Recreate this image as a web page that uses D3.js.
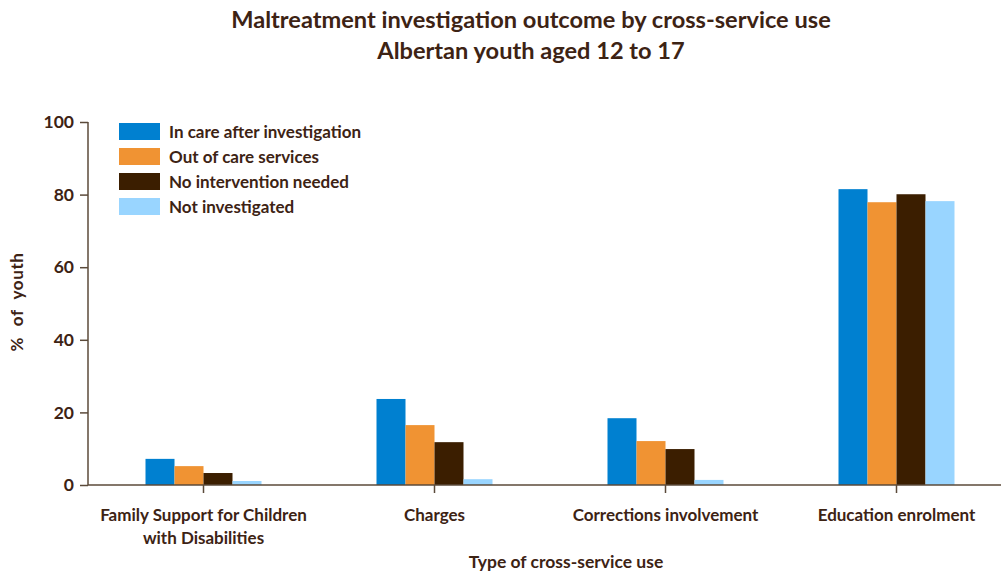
<!DOCTYPE html>
<html>
<head>
<meta charset="utf-8">
<script src="https://cdn.jsdelivr.net/npm/d3@7"></script>
<style>
  html, body { margin: 0; padding: 0; background: #fff; }
  svg text { font-family: Lato, "Open Sans", sans-serif; font-weight: bold; fill: #3d2314; }
</style>
</head>
<body>
<svg id="chart" width="1001" height="572"></svg>
<script>
// Cross-service use categories (x axis)
const categories = [
  ["Family Support for Children", "with Disabilities"],
  ["Charges"],
  ["Corrections involvement"],
  ["Education enrolment"]
];
// Investigation outcome series
const seriesNames = [
  "In care after investigation",
  "Out of care services",
  "No intervention needed",
  "Not investigated"
];
const inCare        = [7.2, 23.7, 18.4, 81.5];
const outOfCare     = [5.2, 16.5, 12.1, 77.9];
const noIntervention = [3.3, 11.8, 9.9, 80.1];
const notInvestigated = [1.1, 1.6, 1.4, 78.2];
const yTicks = [0, 20, 40, 60, 80, 100];
const colors = ["#0080d0", "#f09333", "#3b1e00", "#99d5ff"];

const seriesValues = [inCare, outOfCare, noIntervention, notInvestigated];

const svg = d3.select("#chart");
const axisColor = "#5b4a3a";

const plot = { left: 88, right: 1012, top: 122, bottom: 485 };

const x0 = d3.scaleBand()
  .domain(d3.range(categories.length))
  .range([plot.left, plot.right])
  .paddingInner(0)
  .paddingOuter(0);

const groupWidth = 116;
const x1 = d3.scaleBand()
  .domain(d3.range(seriesNames.length))
  .range([0, groupWidth])
  .padding(0);

const y = d3.scaleLinear().domain([0, 100]).range([plot.bottom, plot.top]);

// Title
svg.append("text")
  .attr("x", 531).attr("y", 28)
  .attr("text-anchor", "middle")
  .style("font-size", "23.6px")
  .text("Maltreatment investigation outcome by cross-service use");
svg.append("text")
  .attr("x", 531).attr("y", 59)
  .attr("text-anchor", "middle")
  .style("font-size", "23.6px")
  .text("Albertan youth aged 12 to 17");

// Bars
const groups = svg.append("g").selectAll("g")
  .data(categories.map((c, i) => i))
  .join("g")
  .attr("transform", i => `translate(${x0(i) + x0.bandwidth() / 2 - groupWidth / 2},0)`);

groups.selectAll("rect")
  .data(i => seriesValues.map((vals, s) => ({ s, v: vals[i] })))
  .join("rect")
  .attr("x", d => x1(d.s))
  .attr("width", x1.bandwidth())
  .attr("y", d => y(d.v))
  .attr("height", d => y(0) - y(d.v))
  .attr("fill", d => colors[d.s]);

// Y axis
const yAxis = svg.append("g")
  .attr("transform", `translate(${plot.left},0)`)
  .call(d3.axisLeft(y).tickValues(yTicks).tickSize(8).tickPadding(6));
yAxis.select(".domain").attr("stroke", axisColor).attr("stroke-width", 1.5).attr("d", `M0,${plot.top}V${plot.bottom}`);
yAxis.selectAll(".tick line").attr("stroke", axisColor).attr("stroke-width", 1.5);
yAxis.selectAll(".tick text").style("font-size", "17.5px").attr("fill", "#3d2314");

// X axis
const xAxis = svg.append("g")
  .attr("transform", `translate(0,${plot.bottom})`)
  .call(d3.axisBottom(x0).tickSize(8).tickFormat(""));
xAxis.select(".domain").attr("stroke", axisColor).attr("stroke-width", 1.5).attr("d", `M${plot.left},0H1001`);
xAxis.selectAll(".tick line").attr("stroke", axisColor).attr("stroke-width", 1.5);
xAxis.selectAll(".tick").each(function (i) {
  const t = d3.select(this).append("text")
    .attr("text-anchor", "middle")
    .attr("fill", "#3d2314")
    .style("font-size", "17px");
  categories[i].forEach((line, k) => {
    t.append("tspan").attr("x", 0).attr("y", 36 + k * 23).text(line);
  });
});

// Axis titles
svg.append("text")
  .attr("x", 566).attr("y", 568)
  .attr("text-anchor", "middle")
  .style("font-size", "17.5px")
  .text("Type of cross-service use");
svg.append("text")
  .attr("transform", "translate(23,302) rotate(-90)")
  .attr("text-anchor", "middle")
  .style("font-size", "17px")
  .style("word-spacing", "6px")
  .style("letter-spacing", "0.6px")
  .text("% of youth");

// Legend
const legend = svg.append("g").attr("transform", "translate(119,123)");
const item = legend.selectAll("g")
  .data(seriesNames)
  .join("g")
  .attr("transform", (d, i) => `translate(0,${i * 25})`);
item.append("rect").attr("width", 41).attr("height", 17).attr("fill", (d, i) => colors[i]);
item.append("text").attr("x", 50).attr("y", 14.5).style("font-size", "17px").text(d => d);
</script>
</body>
</html>
